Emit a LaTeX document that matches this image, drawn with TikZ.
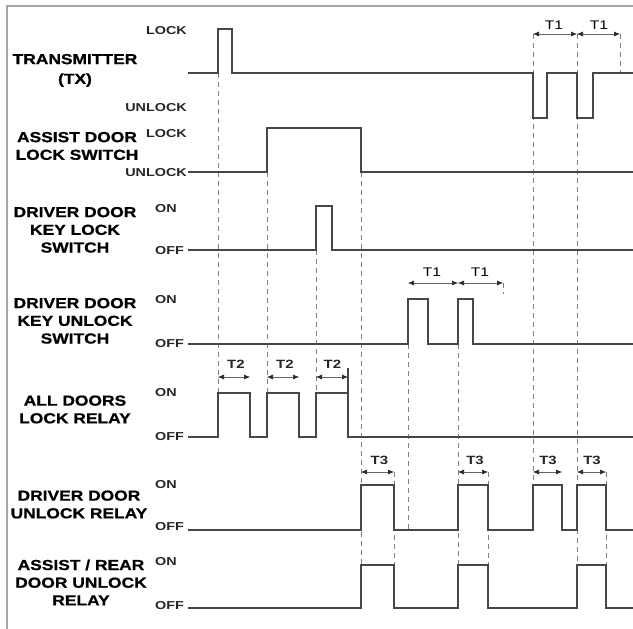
\documentclass[tikz,border=0pt]{standalone}
\usepackage{fontspec}
\setmainfont{Liberation Sans}
\newfontfamily\lab{Liberation Sans}[FakeStretch=1.2,FakeBold=0.8]
\newfontfamily\lvlfont{Liberation Sans}[FakeStretch=1.25]
\usetikzlibrary{arrows.meta}
\begin{document}
\begin{tikzpicture}[x=1pt,y=-1pt,
  sig/.style={draw=black!72, line width=1.1pt, line join=miter},
  guide/.style={draw=black!50, line width=0.7pt, dash pattern=on 5pt off 4pt},
  dim/.style={draw=black!60, line width=0.6pt, {Latex[length=6pt,width=5pt,color=black!85]}-{Latex[length=6pt,width=5pt,color=black!85]}},
  frame/.style={draw=black!35, line width=1.4pt},
  mainlbl/.style={font=\lab\bfseries\fontsize{14.5}{17.7}\selectfont, align=center, inner sep=0pt, anchor=north},
  lvlr/.style={font=\lvlfont\bfseries\fontsize{11.5}{12}\selectfont, text=black!85, inner sep=0pt, anchor=east},
  lvll/.style={font=\lvlfont\bfseries\fontsize{11.5}{12}\selectfont, text=black!85, inner sep=0pt, anchor=west},
  tlbl/.style={font=\lvlfont\bfseries\fontsize{12}{12}\selectfont, text=black!85, inner sep=0pt},
  tlblr/.style={font=\lvlfont\fontsize{12.5}{12}\selectfont, inner sep=0pt}]
\useasboundingbox (0,0) rectangle (633,629);
\fill[white] (0,0) rectangle (633,629);
% frame
\draw[frame] (633,6) -- (7,6) -- (7,629);

% guide lines
\draw[guide] (218,73) -- (218,393);
\draw[guide] (267,172) -- (267,393);
\draw[guide] (316,250) -- (316,393);
\draw[guide] (361,172) -- (361,608);
\draw[guide] (408,344) -- (408,530);
\draw[guide] (458,344) -- (458,608);
\draw[guide] (533,34) -- (533,530);
\draw[guide] (577,34) -- (577,608);
\draw[guide] (620,34) -- (620,73);
\draw[guide] (503,283) -- (503,294);
\draw[guide] (394,472) -- (394,608);
\draw[guide] (488,472) -- (488,608);
\draw[guide] (606,472) -- (606,608);

% main labels
\node[mainlbl] (ltx) at (75,53.8) {TRANSMITTER\\[2pt](TX)};
\node[mainlbl] (lads) at (77,131.8) {ASSIST DOOR\\LOCK SWITCH};
\node[mainlbl] (lkl) at (75,206.8) {DRIVER DOOR\\KEY LOCK\\SWITCH};
\node[mainlbl] (lku) at (75,297.8) {DRIVER DOOR\\KEY UNLOCK\\SWITCH};
\node[mainlbl] (lal) at (75,395.3) {ALL DOORS\\LOCK RELAY};
\node[mainlbl] (ldr) at (79,490.3) {DRIVER DOOR\\UNLOCK RELAY};
\node[mainlbl] (lar) at (81,559.3) {ASSIST / REAR\\DOOR UNLOCK\\RELAY};

% level labels
\node[lvlr] (v1) at (187,31) {LOCK};
\node[lvlr] (v2) at (187,108) {UNLOCK};
\node[lvlr] (v3) at (187,134) {LOCK};
\node[lvlr] (v4) at (187,173) {UNLOCK};
\node[lvll] (v5) at (155,208.5) {ON};
\node[lvll] (v6) at (155,251) {OFF};
\node[lvll] (v7) at (155,300) {ON};
\node[lvll] (v8) at (155,344) {OFF};
\node[lvll] (v9) at (155,393) {ON};
\node[lvll] (v10) at (155,437) {OFF};
\node[lvll] (v11) at (155,484.5) {ON};
\node[lvll] (v12) at (155,527) {OFF};
\node[lvll] (v13) at (155,562) {ON};
\node[lvll] (v14) at (155,606) {OFF};

% signals
\draw[sig] (188,73) -- (218,73) -- (218,29) -- (232,29) -- (232,73) -- (533,73) -- (533,118) -- (547,118) -- (547,73) -- (577,73) -- (577,118) -- (593,118) -- (593,73) -- (633,73);
\draw[sig] (188,172) -- (267,172) -- (267,128) -- (361,128) -- (361,172) -- (633,172);
\draw[sig] (188,250) -- (316,250) -- (316,206) -- (332,206) -- (332,250) -- (633,250);
\draw[sig] (188,344) -- (408,344) -- (408,299) -- (428,299) -- (428,344) -- (458,344) -- (458,299) -- (473,299) -- (473,344) -- (633,344);
\draw[sig] (188,437) -- (218,437) -- (218,393) -- (250,393) -- (250,437) -- (267,437) -- (267,393) -- (299,393) -- (299,437) -- (316,437) -- (316,393) -- (348,393);
\draw[sig] (348,368) -- (348,437) -- (633,437);
\draw[sig] (188,530) -- (361,530) -- (361,485) -- (394,485) -- (394,530) -- (458,530) -- (458,485) -- (488,485) -- (488,530) -- (533,530) -- (533,485) -- (562,485) -- (562,530) -- (577,530) -- (577,485) -- (606,485) -- (606,530) -- (633,530);
\draw[sig] (188,608) -- (361,608) -- (361,565) -- (394,565) -- (394,608) -- (458,608) -- (458,565) -- (488,565) -- (488,608) -- (577,608) -- (577,565) -- (606,565) -- (606,608) -- (633,608);

% dimension arrows
\coordinate (a1) at (533,34); \coordinate (a2) at (577,34); \coordinate (a3) at (620,34);
\draw[dim] (a1) -- (a2);
\draw[dim] (a2) -- (a3);
\node[tlblr] (t1a) at (554,25) {T1};
\node[tlblr] (t1b) at (599,25) {T1};

\coordinate (b1) at (408,283); \coordinate (b2) at (458,283); \coordinate (b3) at (503,283);
\draw[dim] (b1) -- (b2);
\draw[dim] (b2) -- (b3);
\node[tlblr] (t1c) at (432,272.5) {T1};
\node[tlblr] (t1d) at (480,272.5) {T1};

\coordinate (c1) at (218,377); \coordinate (c2) at (250,377);
\coordinate (c3) at (267,377); \coordinate (c4) at (299,377);
\coordinate (c5) at (316,377); \coordinate (c6) at (348,377);
\draw[dim] (c1) -- (c2);
\draw[dim] (c3) -- (c4);
\draw[dim] (c5) -- (c6);
\node[tlbl] (t2a) at (236,364.5) {T2};
\node[tlbl] (t2b) at (285,364.5) {T2};
\node[tlbl] (t2c) at (332.5,364.5) {T2};

\coordinate (d1) at (361,472); \coordinate (d2) at (394,472);
\coordinate (d3) at (458,472); \coordinate (d4) at (488,472);
\coordinate (d5) at (533,472); \coordinate (d6) at (562,472);
\coordinate (d7) at (577,472); \coordinate (d8) at (606,472);
\draw[dim] (d1) -- (d2);
\draw[dim] (d3) -- (d4);
\draw[dim] (d5) -- (d6);
\draw[dim] (d7) -- (d8);
\node[tlbl] (t3a) at (379.5,460) {T3};
\node[tlbl] (t3b) at (475,460) {T3};
\node[tlbl] (t3c) at (548,460) {T3};
\node[tlbl] (t3d) at (592,460) {T3};
\end{tikzpicture}
\end{document}
